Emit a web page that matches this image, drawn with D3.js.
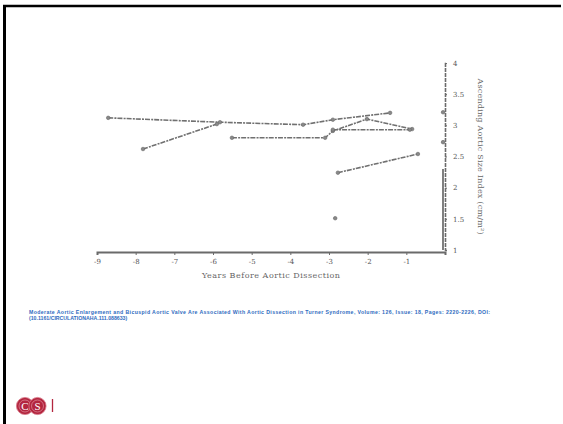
<!DOCTYPE html>
<html>
<head>
<meta charset="utf-8">
<script src="https://cdn.jsdelivr.net/npm/d3@7"></script>
<style>
  body { margin: 0; background: #fff; }
  svg { display: block; }
</style>
</head>
<body>
<div id="slide"></div>
<script>
// values
var xTicks = [-9, -8, -7, -6, -5, -4, -3, -2, -1, 0];
var xTickLabels = ["-9", "-8", "-7", "-6", "-5", "-4", "-3", "-2", "-1", ""];
var yTicks = [1, 1.5, 2, 2.5, 3, 3.5, 4];
var yTickLabels = ["1", "1.5", "2", "2.5", "3", "3.5", "4"];

var patient1 = [[-8.71, 3.12], [-5.82, 3.05], [-3.67, 3.01], [-2.90, 3.09], [-1.42, 3.20]];
var patient2 = [[-7.81, 2.62], [-5.90, 3.02]];
var patient3 = [[-5.51, 2.80], [-3.10, 2.80], [-2.90, 2.91], [-2.02, 3.10], [-0.85, 2.94]];
var patient4 = [[-2.90, 2.93], [-0.91, 2.93]];
var patient5 = [[-2.77, 2.24], [-0.70, 2.54]];
var singles = [[-2.84, 1.51], [-0.05, 3.21], [-0.05, 2.73]];

var caption1 = "Moderate Aortic Enlargement and Bicuspid Aortic Valve Are Associated With Aortic Dissection in Turner Syndrome, Volume: 126, Issue: 18, Pages: 2220-2226, DOI:";
var caption2 = "(10.1161/CIRCULATIONAHA.111.088633)";

var W = 563, H = 424;

var svg = d3.select("#slide").append("svg")
  .attr("width", W)
  .attr("height", H);

// slide frame (top + left rule)
svg.append("line").attr("x1", 3).attr("x2", 561).attr("y1", 6).attr("y2", 6)
  .attr("stroke", "#000").attr("stroke-width", 2.5);
svg.append("line").attr("x1", 4.5).attr("x2", 4.5).attr("y1", 5).attr("y2", H)
  .attr("stroke", "#000").attr("stroke-width", 3);

var x = d3.scaleLinear().domain([-9, 0]).range([97, 445]);
var y = d3.scaleLinear().domain([1, 4]).range([250, 63]);

var ink = "#6a6a6a";
var chart = svg.append("g").attr("id", "chart");

// x axis
var xAxis = d3.axisBottom(x)
  .tickValues(xTicks)
  .tickFormat(function(d, i) { return xTickLabels[i]; })
  .tickSize(3)
  .tickPadding(4);

var gx = chart.append("g")
  .attr("transform", "translate(0,252)")
  .call(xAxis);
gx.select(".domain").attr("stroke", ink).attr("stroke-width", 2);
gx.selectAll(".tick line").attr("stroke", ink);
gx.selectAll(".tick text")
  .attr("fill", "#555")
  .style("font-family", "DejaVu Serif")
  .style("font-size", "7px");

chart.append("text")
  .attr("x", 271).attr("y", 278)
  .attr("text-anchor", "middle")
  .attr("fill", "#666")
  .attr("textLength", 138)
  .style("font-family", "DejaVu Serif")
  .style("font-size", "8px")
  .text("Years Before Aortic Dissection");

// y axis on the right
var yAxis = d3.axisRight(y)
  .tickValues(yTicks)
  .tickFormat(function(d, i) { return yTickLabels[i]; })
  .tickSize(2)
  .tickPadding(6);

var gy = chart.append("g")
  .attr("transform", "translate(445,0)")
  .call(yAxis);
gy.select(".domain").attr("stroke", ink).attr("stroke-width", 1.6)
  .attr("stroke-dasharray", "4,1");
gy.selectAll(".tick line").attr("stroke", ink);
gy.selectAll(".tick text")
  .attr("fill", "#555")
  .style("font-family", "DejaVu Serif")
  .style("font-size", "7px");

// darker stretch on the lower axis
chart.append("line")
  .attr("x1", 443).attr("x2", 443)
  .attr("y1", y(2.3)).attr("y2", y(1))
  .attr("stroke", "#555").attr("stroke-width", 1.5);

chart.append("text")
  .attr("transform", "translate(478," + y(2.5) + ") rotate(90)")
  .attr("text-anchor", "middle")
  .attr("fill", "#666")
  .attr("textLength", 156)
  .style("font-family", "DejaVu Serif")
  .style("font-size", "8px")
  .text("Ascending Aortic Size Index (cm/m²)");

// patient trajectories
var line = d3.line()
  .x(function(d) { return x(d[0]); })
  .y(function(d) { return y(d[1]); });

var series = [patient1, patient2, patient3, patient4, patient5];

chart.selectAll(".traj")
  .data(series)
  .enter()
  .append("path")
  .attr("class", "traj")
  .attr("d", line)
  .attr("fill", "none")
  .attr("stroke", "#707070")
  .attr("stroke-width", 1.6)
  .attr("stroke-dasharray", "5,1.2,2,1");

var allPts = series.reduce(function(a, s) { return a.concat(s); }, []).concat(singles);

chart.selectAll(".pt")
  .data(allPts)
  .enter()
  .append("circle")
  .attr("class", "pt")
  .attr("cx", function(d) { return x(d[0]); })
  .attr("cy", function(d) { return y(d[1]); })
  .attr("r", 1.8)
  .attr("fill", "#888")
  .attr("stroke", "#666")
  .attr("stroke-width", 0.6);

// citation
var cap = svg.append("g")
  .style("font-family", "Liberation Sans, Arial, sans-serif")
  .style("font-size", "5.2px")
  .style("font-weight", "bold")
  .attr("fill", "#2e6bc0");
cap.append("text").attr("x", 29).attr("y", 314)
  .attr("textLength", 461).text(caption1);
cap.append("text").attr("x", 29).attr("y", 320).text(caption2);

// logo
var logo = svg.append("g").attr("transform", "translate(0,406)");
var logoRed = "#b3263f";
[25, 37.5].forEach(function(cx, i) {
  logo.append("circle").attr("cx", cx).attr("cy", 0).attr("r", 8.6)
    .attr("fill", logoRed).attr("stroke", "#d97a8a").attr("stroke-width", 0.8);
  logo.append("circle").attr("cx", cx).attr("cy", 0).attr("r", 6)
    .attr("fill", "none").attr("stroke", "#e7a0ac").attr("stroke-width", 0.6);
  logo.append("text").attr("x", cx).attr("y", 3.6)
    .attr("text-anchor", "middle")
    .attr("fill", "#fff")
    .style("font-family", "Liberation Serif, serif")
    .style("font-size", "11px")
    .text(i === 0 ? "C" : "S");
});
logo.append("line").attr("x1", 52.5).attr("x2", 52.5).attr("y1", -7).attr("y2", 6)
  .attr("stroke", logoRed).attr("stroke-width", 1.3);
</script>
</body>
</html>
